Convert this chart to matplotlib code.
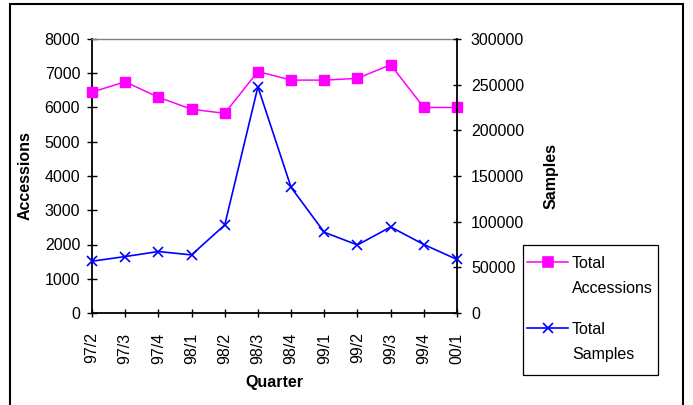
import matplotlib
matplotlib.use("Agg")
import matplotlib.pyplot as plt
from matplotlib.lines import Line2D
from matplotlib.patches import Rectangle

quarters = ["97/2", "97/3", "97/4", "98/1", "98/2", "98/3",
            "98/4", "99/1", "99/2", "99/3", "99/4", "00/1"]
accessions = [6450, 6750, 6300, 5950, 5830, 7050, 6800, 6800, 6850, 7250, 6000, 6000]
samples = [56700, 61800, 67300, 63600, 96400, 247600, 137500, 88400, 74500, 94200, 75000, 58600]
series_names = ["Total\nAccessions", "Total\nSamples"]
left_ticks = [0, 1000, 2000, 3000, 4000, 5000, 6000, 7000, 8000]
right_ticks = [0, 50000, 100000, 150000, 200000, 250000, 300000]

plt.rcParams['font.family'] = ['Liberation Sans', 'DejaVu Sans']
FS = 11.5

W, H = 693, 405
fig = plt.figure(figsize=(W / 100, H / 100), dpi=100)

def fx(px):
    return px / W

def fy(py):
    return 1 - py / H

L, R, T, B = 92, 457, 39, 313
ax = fig.add_axes([fx(L), fy(B), fx(R) - fx(L), fy(T) - fy(B)])
ax2 = ax.twinx()

x = list(range(len(quarters)))
mag = '#FF00FF'
blu = '#0000FF'
ax.plot(x, accessions, color=mag, lw=1.1, marker='s', ms=6.5,
        mfc=mag, mec=mag, clip_on=False, zorder=3)
ax2.plot(x, samples, color=blu, lw=1.2, marker='x', ms=7.5, mew=1.2,
         clip_on=False, zorder=3)

ax.set_xlim(0, len(quarters) - 1)
ax.set_ylim(0, 8000)
ax2.set_ylim(0, 300000)
ax.set_xticks(x)
ax.set_xticklabels(quarters, rotation=90, fontsize=FS)
ax.set_yticks(left_ticks)
ax.set_yticklabels([str(v) for v in left_ticks], fontsize=FS)
ax2.set_yticks(right_ticks)
ax2.set_yticklabels([str(v) for v in right_ticks], fontsize=FS)

ax.tick_params(axis='y', direction='inout', length=7, width=1, pad=5)
ax.tick_params(axis='x', direction='inout', length=6, width=1, pad=11)
ax2.tick_params(axis='y', direction='inout', length=6, width=1, pad=7)

for s in ['left', 'bottom']:
    ax.spines[s].set_linewidth(1.3)
    ax.spines[s].set_color('black')
ax.spines['top'].set_color('#808080')
ax.spines['top'].set_linewidth(1.0)
ax.spines['right'].set_visible(False)
for s in ['left', 'bottom', 'top']:
    ax2.spines[s].set_visible(False)
ax2.spines['right'].set_linewidth(1.3)
ax2.spines['right'].set_color('black')

ax.set_ylabel("Accessions", fontsize=FS, fontweight='bold', va='center')
ax.yaxis.set_label_coords((25 - L) / (R - L), 0.5)
ax2.set_ylabel("Samples", fontsize=FS, fontweight='bold', va='center')
ax2.yaxis.set_label_coords((551 - L) / (R - L), 0.5)
ax.set_xlabel("Quarter", fontsize=FS, fontweight='bold', va='center')
ax.xaxis.set_label_coords(0.5, (B - 382) / (B - T))

# legend (manual)
fig.patches.append(Rectangle((fx(523), fy(375)), fx(658) - fx(523), fy(245) - fy(375),
                             transform=fig.transFigure, fill=False, ec='black', lw=0.9))
leg_items = [(mag, 's', 262, 1.1, 6.5), (blu, 'x', 328, 1.2, 7.5)]
for (c, m, yy, lw, ms), name in zip(leg_items, series_names):
    fig.add_artist(Line2D([fx(527), fx(568)], [fy(yy), fy(yy)], color=c, lw=lw,
                          transform=fig.transFigure))
    fig.add_artist(Line2D([fx(547.5)], [fy(yy)], color=c, marker=m, ms=ms,
                          mfc=c, mec=c, mew=1.2, transform=fig.transFigure))
    fig.text(fx(572), fy(yy - 6), name, fontsize=FS, va='top', ha='left',
             linespacing=1.8)

# figure border
fig.patches.append(Rectangle((fx(10), fy(410)), fx(683) - fx(10), fy(4) - fy(410),
                             transform=fig.transFigure, fill=False, ec='black', lw=1.5))

fig.savefig("out.png", dpi=100)
